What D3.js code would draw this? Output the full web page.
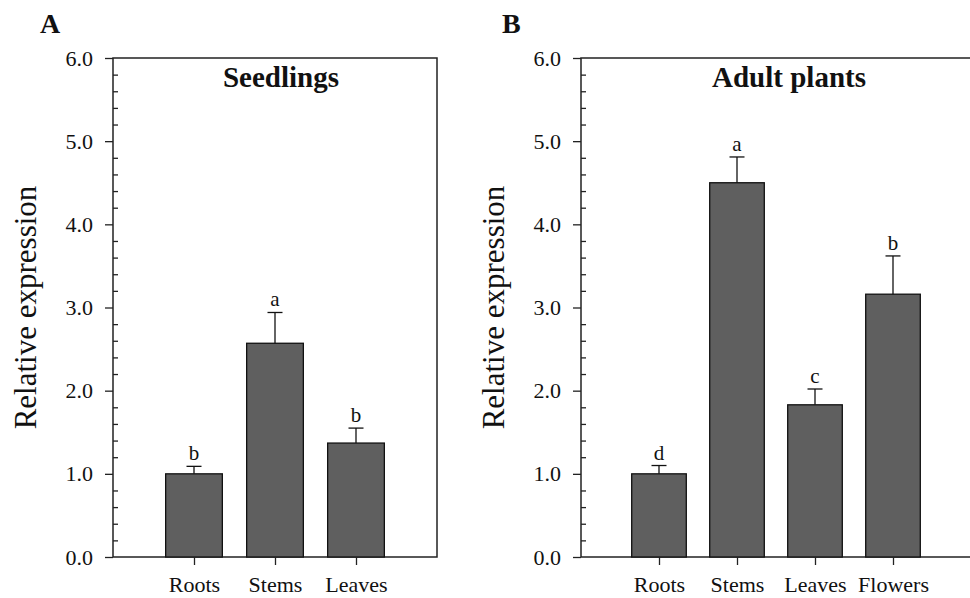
<!DOCTYPE html>
<html><head><meta charset="utf-8">
<script src="https://cdn.jsdelivr.net/npm/d3@7"></script>
<style>
body{margin:0;background:#fff;}
svg text{font-family:"Liberation Serif","Times New Roman","DejaVu Serif",serif !important;}
</style></head>
<body>
<svg id="chart" width="970" height="598"></svg>
<script>
// Data
const catsA = ["Roots", "Stems", "Leaves"];
const valsA = [1.0, 2.57, 1.37];
const errA = [0.09, 0.37, 0.18];
const lettersA = ["b", "a", "b"];

const catsB = ["Roots", "Stems", "Leaves", "Flowers"];
const valsB = [1.0, 4.50, 1.83, 3.16];
const errB = [0.10, 0.31, 0.19, 0.46];
const lettersB = ["d", "a", "c", "b"];

const yTicks = [0, 1, 2, 3, 4, 5, 6];
const yMinorTicks = d3.range(0, 6.0001, 0.2).filter(v => Math.abs(v - Math.round(v)) > 1e-6);

const svg = d3.select("#chart");

function panel(cfg) {
  const {left, right, top, bottom, cats, vals, errs, letters, title, titleX, tag, tagX} = cfg;
  const g = svg.append("g");
  const x = d3.scalePoint().domain(cats).range([left, right]).padding(1);
  const y = d3.scaleLinear().domain([0, 6]).range([bottom, top]);
  const bw = x.step() * 0.7;

  // frame
  g.append("rect").attr("x", left).attr("y", top)
    .attr("width", right - left).attr("height", bottom - top)
    .attr("fill", "none").attr("stroke", "#222").attr("stroke-width", 1.5);

  // bars
  g.selectAll("rect.bar").data(cats).enter().append("rect").attr("class", "bar")
    .attr("x", d => x(d) - bw / 2)
    .attr("y", (d, i) => y(vals[i]))
    .attr("width", bw)
    .attr("height", (d, i) => y(0) - y(vals[i]))
    .attr("fill", "#5f5f5f").attr("stroke", "#111").attr("stroke-width", 1.3);

  // error bars
  const capW = 15;
  cats.forEach((c, i) => {
    const cx = x(c);
    g.append("line").attr("x1", cx).attr("x2", cx)
      .attr("y1", y(vals[i])).attr("y2", y(vals[i] + errs[i]))
      .attr("stroke", "#111").attr("stroke-width", 1.3);
    g.append("line").attr("x1", cx - capW / 2).attr("x2", cx + capW / 2)
      .attr("y1", y(vals[i] + errs[i])).attr("y2", y(vals[i] + errs[i]))
      .attr("stroke", "#111").attr("stroke-width", 1.3);
    g.append("text").attr("x", cx).attr("y", y(vals[i] + errs[i]) - 6)
      .attr("text-anchor", "middle").attr("font-size", 21).attr("fill", "#111")
      .text(letters[i]);
  });

  // y axis major (outside)
  const ya = g.append("g").attr("transform", `translate(${left},0)`)
    .call(d3.axisLeft(y).tickValues(yTicks).tickSize(8).tickPadding(12).tickFormat(d3.format(".1f")));
  ya.select(".domain").remove();
  ya.selectAll("line").attr("stroke", "#222").attr("stroke-width", 1.3);
  ya.selectAll("text").attr("font-size", 22).attr("fill", "#111");

  // y minor (inside)
  const ym = g.append("g").attr("transform", `translate(${left},0)`)
    .call(d3.axisRight(y).tickValues(yMinorTicks).tickSize(5).tickFormat(""));
  ym.select(".domain").remove();
  ym.selectAll("line").attr("stroke", "#222").attr("stroke-width", 1.3);

  // x axis
  const xa = g.append("g").attr("transform", `translate(0,${bottom})`)
    .call(d3.axisBottom(x).tickSize(8).tickPadding(11));
  xa.select(".domain").remove();
  xa.selectAll("line").attr("stroke", "#222").attr("stroke-width", 1.3);
  xa.selectAll("text").attr("font-size", 22).attr("fill", "#111");

  // y label
  g.append("text")
    .attr("transform", `translate(${left - 77},${(top + bottom) / 2}) rotate(-90)`)
    .attr("text-anchor", "middle").attr("font-size", 31).attr("fill", "#111")
    .text("Relative expression");

  // title
  g.append("text").attr("x", titleX).attr("y", top + 29)
    .attr("text-anchor", "middle").attr("font-size", 29).attr("font-weight", "bold")
    .attr("fill", "#111").text(title);

  // panel tag
  g.append("text").attr("x", tagX).attr("y", 33)
    .attr("font-size", 28).attr("font-weight", "bold").attr("fill", "#111").text(tag);
}

panel({left: 113, right: 437, top: 58, bottom: 557, cats: catsA, vals: valsA, errs: errA,
  letters: lettersA, title: "Seedlings", titleX: 281, tag: "A", tagX: 40});
panel({left: 581, right: 971, top: 58, bottom: 557, cats: catsB, vals: valsB, errs: errB,
  letters: lettersB, title: "Adult plants", titleX: 789, tag: "B", tagX: 502});
</script>
</body></html>
